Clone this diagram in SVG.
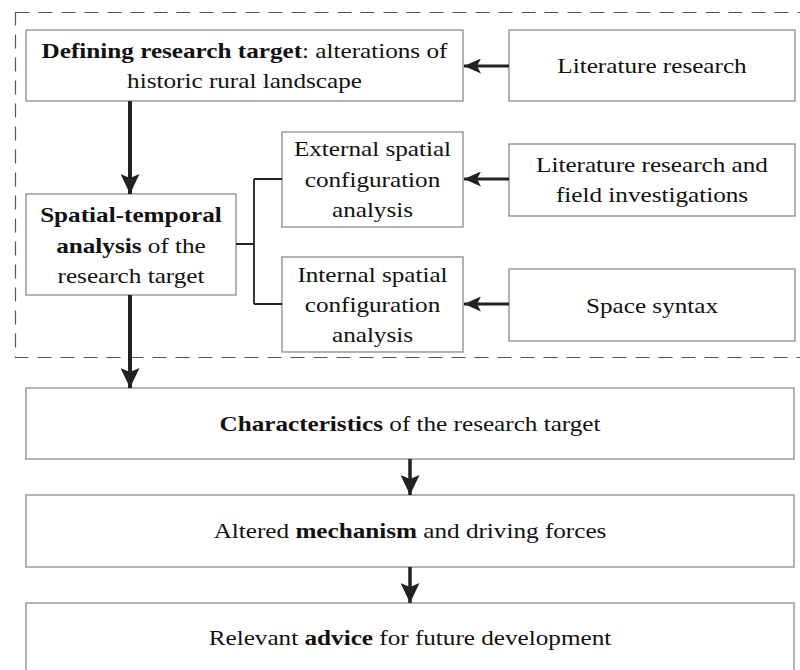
<svg xmlns="http://www.w3.org/2000/svg" width="800" height="670" viewBox="0 0 800 670">
<style>
.box{fill:#fff;stroke:#8a8a8a;stroke-width:1.3}
.t{font-family:"Liberation Serif","Times New Roman",serif;font-size:22px;fill:#111;text-anchor:middle}
.b{font-weight:bold}
.c{stroke:#222;fill:none}
</style>
<defs>
<marker id="ah" markerWidth="17" markerHeight="15" refX="17" refY="7.5" orient="auto" markerUnits="userSpaceOnUse" viewBox="0 0 17 15">
<path d="M0,0 L17,7.5 L0,15 L4,7.5 Z" fill="#222"/>
</marker>
<marker id="av" markerWidth="20" markerHeight="19" refX="20" refY="9.5" orient="auto" markerUnits="userSpaceOnUse" viewBox="0 0 20 19">
<path d="M0,0 L20,9.5 L0,19 L4,9.5 Z" fill="#222"/>
</marker>
</defs>
<rect x="15.5" y="12.5" width="800" height="345" fill="none" stroke="#555" stroke-width="1.2" stroke-dasharray="14,9"/>
<g id="n1"><rect class="box" x="26" y="30" width="437" height="71"/>
<g transform="translate(244.5,0) scale(1.145,1)">
<text class="t" x="0" y="58"><tspan class="b">Defining research target</tspan>: alterations of</text>
<text class="t" x="0" y="88">historic rural landscape</text></g></g>
<g id="n2"><rect class="box" x="509" y="30" width="286" height="71"/>
<g transform="translate(652,0) scale(1.145,1)">
<text class="t" x="0" y="73">Literature research</text></g></g>
<g id="n3"><rect class="box" x="26" y="194" width="210" height="101"/>
<g transform="translate(131,0) scale(1.145,1)">
<text class="t b" x="0" y="222">Spatial-temporal</text>
<text class="t" x="0" y="253"><tspan class="b">analysis</tspan> of the</text>
<text class="t" x="0" y="283">research target</text></g></g>
<g id="n4"><rect class="box" x="282" y="132" width="181" height="95"/>
<g transform="translate(372.5,0) scale(1.145,1)">
<text class="t" x="0" y="156">External spatial</text>
<text class="t" x="0" y="187">configuration</text>
<text class="t" x="0" y="217">analysis</text></g></g>
<g id="n5"><rect class="box" x="282" y="257" width="181" height="95"/>
<g transform="translate(372.5,0) scale(1.145,1)">
<text class="t" x="0" y="282">Internal spatial</text>
<text class="t" x="0" y="312">configuration</text>
<text class="t" x="0" y="342">analysis</text></g></g>
<g id="n6"><rect class="box" x="509" y="144" width="286" height="72"/>
<g transform="translate(652,0) scale(1.145,1)">
<text class="t" x="0" y="172">Literature research and</text>
<text class="t" x="0" y="202">field investigations</text></g></g>
<g id="n7"><rect class="box" x="509" y="269" width="286" height="72"/>
<g transform="translate(652,0) scale(1.145,1)">
<text class="t" x="0" y="313">Space syntax</text></g></g>
<g id="n8"><rect class="box" x="26" y="388" width="768" height="71"/>
<g transform="translate(410,0) scale(1.145,1)">
<text class="t" x="0" y="431"><tspan class="b">Characteristics</tspan> of the research target</text></g></g>
<g id="n9"><rect class="box" x="26" y="495" width="768" height="72"/>
<g transform="translate(410,0) scale(1.145,1)">
<text class="t" x="0" y="538">Altered <tspan class="b">mechanism</tspan> and driving forces</text></g></g>
<g id="n10"><rect class="box" x="26" y="603" width="768" height="80"/>
<g transform="translate(410,0) scale(1.145,1)">
<text class="t" x="0" y="645">Relevant <tspan class="b">advice</tspan> for future development</text></g></g>
<g id="connectors">
<line class="c" x1="509" y1="66" x2="464" y2="66" stroke-width="3" marker-end="url(#ah)"/>
<line class="c" x1="130" y1="101" x2="130" y2="194" stroke-width="4" marker-end="url(#av)"/>
<path class="c" d="M236,244 H254 M254,179 V304 M254,179 H282 M254,304 H282" stroke-width="1.8"/>
<line class="c" x1="509" y1="179" x2="464" y2="179" stroke-width="3" marker-end="url(#ah)"/>
<line class="c" x1="509" y1="304" x2="464" y2="304" stroke-width="3" marker-end="url(#ah)"/>
<line class="c" x1="130" y1="295" x2="130" y2="388" stroke-width="4" marker-end="url(#av)"/>
<line class="c" x1="410" y1="459" x2="410" y2="495" stroke-width="3.5" marker-end="url(#av)"/>
<line class="c" x1="410" y1="567" x2="410" y2="603" stroke-width="3.5" marker-end="url(#av)"/>
</g>
</svg>
